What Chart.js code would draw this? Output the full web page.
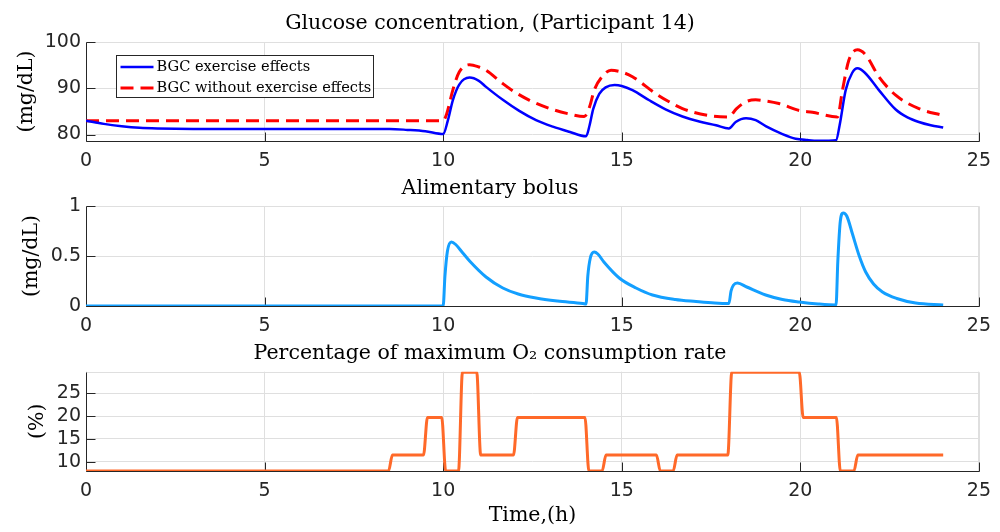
<!DOCTYPE html>
<html><head><meta charset="utf-8">
<script src="https://cdn.jsdelivr.net/npm/chart.js@4.4.0/dist/chart.umd.min.js"></script>
<style>
html,body{margin:0;padding:0;background:#fff;}
#wrap{position:relative;width:1000px;height:532px;background:#fff;overflow:hidden;}
canvas{position:absolute;left:0;}
</style></head><body>
<div id="wrap">
<canvas id="c1" width="1000" height="170" style="top:0;width:1000px;height:170px"></canvas>
<canvas id="c2" width="1000" height="170" style="top:170px;width:1000px;height:170px"></canvas>
<canvas id="c3" width="1000" height="192" style="top:340px;width:1000px;height:192px"></canvas>
</div>
<script>
// ---- tick labels ----
const xTicks = [0, 5, 10, 15, 20, 25];
const glucoseTicks = [80, 90, 100];
const bolusTicks = [0, 0.5, 1];
const o2Ticks = [10, 15, 20, 25];

// ---- BGC with exercise effects ----
const bgcExTime  = [0,0.5,1,1.5,2,3,5,7,8.5,9,9.5,10,10.13,10.27,10.45,10.74,11.0,11.2,11.67,12.13,12.6,13.07,13.53,14.0,14.1,14.2,14.37,14.55,14.8,15.0,15.3,15.77,16.24,16.7,17.17,17.64,18.0,18.19,18.48,18.75,19.03,19.5,19.87,20.2,20.5,20.8,21.0,21.1,21.27,21.45,21.6,21.8,22.2,22.67,23.0,23.32,23.65,24.0];
const bgcExValue = [83.0,82.3,81.8,81.45,81.3,81.2,81.2,81.2,81.2,81.0,80.7,80.1,83.0,87.4,90.8,92.3,91.6,90.3,87.5,85.1,83.1,81.7,80.6,79.6,82.0,85.5,88.8,90.2,90.7,90.5,89.6,87.4,85.4,83.9,82.8,82.0,81.3,82.7,83.5,83.1,81.8,80.1,79.1,78.8,78.65,78.65,78.75,82.0,89.6,93.3,94.3,93.4,89.6,85.4,83.7,82.7,82.0,81.5];

// ---- BGC without exercise effects ----
const bgcNoExTime  = [0,5,10,10.1,10.27,10.45,10.74,11.0,11.2,11.67,12.0,12.42,13.07,13.5,13.95,14.1,14.23,14.45,14.7,15.0,15.3,15.96,16.3,16.7,17.45,18.0,18.2,18.48,18.75,19.0,19.4,19.97,20.34,21.04,21.18,21.36,21.6,21.83,22.2,22.67,23.32,24.0];
const bgcNoExValue = [83,83,83,84.5,89.6,93.5,95.1,94.6,93.9,91.0,89.2,87.4,85.4,84.5,83.9,86.0,89.6,92.5,93.9,93.5,92.5,88.8,87.2,85.6,84.1,83.8,85.5,87.1,87.5,87.3,86.7,85.2,84.8,83.8,89.6,96.1,98.3,97.2,92.5,88.5,85.6,84.1];

// ---- Alimentary bolus ----
const bolusTime  = [0,5,10,10.05,10.12,10.23,10.35,10.55,10.74,11.2,11.67,12.1,12.6,13.2,13.91,14.0,14.05,14.12,14.23,14.33,14.5,14.93,15.4,15.86,16.5,17.08,17.6,18.0,18.06,18.13,18.24,18.5,19.03,19.5,19.97,20.5,21.0,21.05,21.12,21.2,21.3,21.46,21.65,21.83,22.05,22.3,22.7,23.23,24.0];
const bolusValue = [0,0,0,0.3,0.55,0.64,0.615,0.53,0.45,0.29,0.18,0.12,0.08,0.05,0.025,0.02,0.3,0.48,0.54,0.52,0.44,0.28,0.18,0.11,0.065,0.045,0.03,0.025,0.15,0.21,0.23,0.19,0.11,0.065,0.04,0.02,0.01,0.45,0.85,0.93,0.9,0.72,0.5,0.34,0.22,0.14,0.075,0.03,0.01];

// ---- Percentage of maximum O2 consumption rate ----
const o2Time  = [0,8.47,8.58,9.45,9.56,9.96,10.07,10.43,10.54,10.94,11.05,11.97,12.08,13.97,14.08,14.45,14.56,15.97,16.08,16.44,16.55,17.97,18.08,19.97,20.08,21.01,21.12,21.50,21.61,24.0];
const o2Value = [8,8,11.5,11.5,19.7,19.7,8,8,29.6,29.6,11.5,11.5,19.7,19.7,8,8,11.5,11.5,8,8,11.5,11.5,29.6,29.6,19.7,19.7,8,8,11.5,11.5];

const AXIS = '#262626', GRID = '#dfdfdf';
const SERIF = "'DejaVu Serif', serif", SANS = "'DejaVu Sans', sans-serif";
const pts = (t, v) => t.map((x, i) => ({x, y: v[i]}));
const setTicks = arr => s => { s.ticks = arr.map(v => ({value: v})); };

const matlabAxes = {
  id: 'matlabAxes',
  beforeDatasetsDraw(chart) {
    const {ctx, chartArea: a, scales: {x, y}} = chart;
    const L = Math.round(a.left) + 0.5, R = Math.round(a.right) + 0.5;
    const T = Math.round(a.top) + 0.5, B = Math.round(a.bottom) + 0.5;
    ctx.save();
    ctx.lineWidth = 1;
    ctx.strokeStyle = GRID;
    ctx.beginPath();
    ctx.moveTo(L, T); ctx.lineTo(R, T); ctx.lineTo(R, B);
    ctx.stroke();
    ctx.strokeStyle = AXIS;
    ctx.beginPath();
    ctx.moveTo(L, T); ctx.lineTo(L, B); ctx.lineTo(R, B);
    x.ticks.forEach(t => { const p = Math.round(x.getPixelForValue(t.value)) + 0.5; ctx.moveTo(p, B); ctx.lineTo(p, B - 9); });
    y.ticks.forEach(t => { const p = Math.round(y.getPixelForValue(t.value)) + 0.5; ctx.moveTo(L, p); ctx.lineTo(L + 9, p); });
    ctx.stroke();
    ctx.restore();
  }
};

const insideLegend = {
  id: 'insideLegend',
  afterDatasetsDraw(chart) {
    const {ctx, chartArea: a} = chart;
    const bx = Math.round(a.left) + 30.5, by = Math.round(a.top) + 13.5, bw = 257, bh = 42;
    ctx.save();
    ctx.fillStyle = '#fff';
    ctx.fillRect(bx, by, bw, bh);
    ctx.strokeStyle = AXIS; ctx.lineWidth = 1;
    ctx.strokeRect(bx, by, bw, bh);
    chart.data.datasets.forEach((ds, i) => {
      const yy = by + 11.5 + i * 21;
      ctx.strokeStyle = ds.borderColor; ctx.lineWidth = ds.borderWidth;
      ctx.setLineDash(ds.borderDash || []);
      ctx.beginPath(); ctx.moveTo(bx + 4, yy); ctx.lineTo(bx + 37, yy); ctx.stroke();
      ctx.setLineDash([]);
      ctx.fillStyle = '#000';
      ctx.font = "14.6px " + SERIF;
      ctx.textBaseline = 'middle'; ctx.textAlign = 'left';
      ctx.fillText(ds.label, bx + 40, yy);
    });
    ctx.restore();
  }
};

function makeChart(id, cfg) {
  const xTitle = cfg.xTitle;
  return new Chart(document.getElementById(id), {
    type: 'line',
    data: {datasets: cfg.datasets},
    plugins: cfg.plugins,
    options: {
      responsive: false, animation: false, devicePixelRatio: 1,
      layout: {padding: {left: 0, right: 20, top: 0, bottom: 0}},
      elements: {point: {radius: 0}, line: {cubicInterpolationMode: 'monotone', fill: false, borderCapStyle: 'butt'}},
      plugins: {
        legend: {display: false}, tooltip: {enabled: false},
        title: {display: true, text: cfg.title, color: '#000',
          font: {family: SERIF, size: 20.5, weight: 'normal', lineHeight: 1.2},
          padding: cfg.titlePad}
      },
      scales: {
        x: {type: 'linear', min: 0, max: 25,
          afterBuildTicks: setTicks(xTicks),
          afterFit: s => { s.height = cfg.xHeight; },
          grid: {color: GRID, drawTicks: false, lineWidth: 1},
          border: {display: false},
          ticks: {color: AXIS, font: {family: SANS, size: 19}, padding: 9, maxRotation: 0, callback: v => String(v)},
          title: xTitle ? {display: true, text: xTitle, color: '#000', font: {family: SERIF, size: 20.5, lineHeight: 1.2}, padding: {top: 0, bottom: 3.7}} : {display: false}
        },
        y: {type: 'linear', min: cfg.yMin, max: cfg.yMax,
          afterBuildTicks: setTicks(cfg.yTicks),
          afterFit: s => { s.width = 86; },
          grid: {color: GRID, drawTicks: false, lineWidth: 1},
          border: {display: false},
          ticks: {color: AXIS, font: {family: SANS, size: 19}, padding: 5, callback: v => String(v)},
          title: {display: true, text: cfg.yTitle, color: '#000', font: {family: SERIF, size: 20.5, lineHeight: 1.2}, padding: {top: cfg.yTitlePad, bottom: 0}}
        }
      }
    }
  });
}

makeChart('c1', {
  title: 'Glucose concentration, (Participant 14)',
  titlePad: {top: 11.7, bottom: 5.7},
  xHeight: 29, yMin: 78.6, yMax: 100, yTicks: glucoseTicks,
  yTitle: '(mg/dL)', yTitlePad: 14.7,
  plugins: [matlabAxes, insideLegend],
  datasets: [
    {label: 'BGC exercise effects', data: pts(bgcExTime, bgcExValue), borderColor: '#0000ff', borderWidth: 2.5},
    {label: 'BGC without exercise effects', data: pts(bgcNoExTime, bgcNoExValue), borderColor: '#ff0000', borderWidth: 3, borderDash: [13, 7]}
  ]
});

makeChart('c2', {
  title: 'Alimentary bolus',
  titlePad: {top: 6.1, bottom: 5.3},
  xHeight: 34, yMin: 0, yMax: 1, yTicks: bolusTicks,
  yTitle: '(mg/dL)', yTitlePad: 19.7,
  plugins: [matlabAxes],
  datasets: [
    {label: 'Alimentary bolus', data: pts(bolusTime, bolusValue), borderColor: '#139fff', borderWidth: 3}
  ]
});

makeChart('c3', {
  title: 'Percentage of maximum O\u2082 consumption rate',
  titlePad: {top: 1.0, bottom: 6.1},
  xHeight: 61, yMin: 8, yMax: 29.7, yTicks: o2Ticks,
  yTitle: '(%)', yTitlePad: 25.7, xTitle: 'Time,(h)',
  plugins: [matlabAxes],
  datasets: [
    {label: 'O2 consumption', data: pts(o2Time, o2Value), borderColor: '#ff6929', borderWidth: 3}
  ]
});
</script>
</body></html>
